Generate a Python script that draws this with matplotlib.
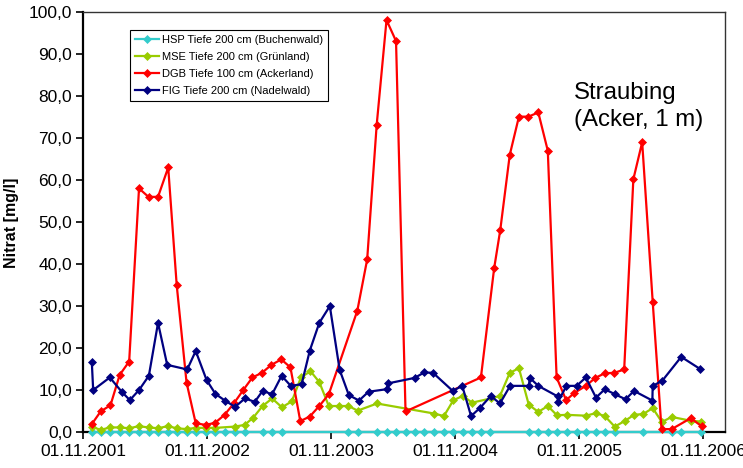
import matplotlib
matplotlib.use("Agg")
import matplotlib.pyplot as plt
import matplotlib.dates as mdates
from matplotlib.ticker import FuncFormatter
import pandas as pd

plt.rcParams['font.family'] = ['Liberation Sans', 'DejaVu Sans']

# HSP Tiefe 200 cm (Buchenwald) - alle Werte 0
hsp_dates = ['2001-11-27', '2001-12-23', '2002-01-19', '2002-02-17', '2002-03-17', '2002-04-14',
             '2002-05-13', '2002-06-10', '2002-07-08', '2002-08-05', '2002-09-02', '2002-09-29',
             '2002-10-28', '2002-11-26', '2002-12-24', '2003-01-22', '2003-02-20', '2003-04-14',
             '2003-05-12', '2003-06-10', '2003-12-23', '2004-01-19', '2004-03-16', '2004-04-13',
             '2004-05-11', '2004-06-08', '2004-07-06', '2004-08-02', '2004-09-01', '2004-09-29',
             '2004-10-27', '2004-11-24', '2004-12-21', '2005-01-16', '2005-02-13', '2005-06-06',
             '2005-07-04', '2005-08-01', '2005-08-28', '2005-09-26', '2005-10-25', '2005-11-21',
             '2005-12-21', '2006-01-16', '2006-02-14', '2006-05-09', '2006-08-01', '2006-08-29',
             '2006-10-26']
hsp_vals = [0.0, 0.0, 0.0, 0.0, 0.0, 0.0, 0.0, 0.0, 0.0, 0.0, 0.0, 0.0,
            0.0, 0.0, 0.0, 0.0, 0.0, 0.0, 0.0, 0.0, 0.0, 0.0, 0.0, 0.0,
            0.0, 0.0, 0.0, 0.0, 0.0, 0.0, 0.0, 0.0, 0.0, 0.0, 0.0, 0.0,
            0.0, 0.0, 0.0, 0.0, 0.0, 0.0, 0.0, 0.0, 0.0, 0.0, 0.0, 0.0,
            0.0]

# MSE Tiefe 200 cm (Grünland)
mse_dates = ['2001-11-27', '2001-12-23', '2002-01-19', '2002-02-17', '2002-03-17', '2002-04-14',
             '2002-05-13', '2002-06-10', '2002-07-08', '2002-08-05', '2002-09-02', '2002-09-29',
             '2002-10-28', '2002-11-26', '2003-01-22', '2003-02-20', '2003-03-17', '2003-04-14',
             '2003-05-12', '2003-06-10', '2003-07-09', '2003-08-05', '2003-09-02', '2003-09-28',
             '2003-10-26', '2003-11-25', '2003-12-23', '2004-01-19', '2004-03-16', '2004-09-01',
             '2004-09-29', '2004-10-27', '2004-11-24', '2004-12-21', '2005-02-14', '2005-03-13',
             '2005-04-11', '2005-05-08', '2005-06-06', '2005-07-04', '2005-08-01', '2005-08-28',
             '2005-09-26', '2005-11-21', '2005-12-21', '2006-01-16', '2006-02-14', '2006-03-15',
             '2006-04-12', '2006-05-09', '2006-06-06', '2006-07-03', '2006-08-01', '2006-09-26',
             '2006-10-26']
mse_vals = [1.4, 0.6, 1.2, 1.2, 1.0, 1.5, 1.2, 1.0, 1.5, 1.0, 0.8, 1.1,
            1.1, 1.1, 1.4, 1.8, 3.5, 6.3, 8.1, 6.0, 7.4, 13.1, 14.6, 12.0,
            6.3, 6.3, 6.3, 5.2, 6.9, 4.5, 3.9, 7.7, 8.7, 7.1, 8.1, 8.7,
            14.2, 15.3, 6.6, 4.9, 6.3, 4.1, 4.2, 4.0, 4.6, 3.9, 1.4, 2.7,
            4.2, 4.4, 5.8, 2.5, 3.7, 2.8, 2.6]

# DGB Tiefe 100 cm (Ackerland)
dgb_dates = ['2001-11-27', '2001-12-23', '2002-01-21', '2002-02-17', '2002-03-17', '2002-04-15',
             '2002-05-13', '2002-06-10', '2002-07-10', '2002-08-04', '2002-09-02', '2002-09-29',
             '2002-10-28', '2002-11-25', '2002-12-23', '2003-01-20', '2003-02-16', '2003-03-15',
             '2003-04-12', '2003-05-10', '2003-06-08', '2003-07-05', '2003-08-03', '2003-08-31',
             '2003-09-28', '2003-10-26', '2004-01-18', '2004-02-16', '2004-03-15', '2004-04-13',
             '2004-05-11', '2004-06-08', '2005-01-16', '2005-02-24', '2005-03-14', '2005-04-11',
             '2005-05-08', '2005-06-05', '2005-07-04', '2005-08-01', '2005-08-27', '2005-09-24',
             '2005-10-18', '2005-11-21', '2005-12-19', '2006-01-16', '2006-02-13', '2006-03-14',
             '2006-04-10', '2006-05-06', '2006-06-06', '2006-07-02', '2006-08-01', '2006-09-26',
             '2006-10-28']
dgb_vals = [2.0, 5.0, 6.5, 13.7, 16.9, 58.1, 56.1, 56.1, 63.1, 35.1, 11.9, 2.2,
            1.8, 2.3, 4.2, 7.0, 10.1, 13.1, 14.2, 16.1, 17.4, 15.5, 2.7, 3.8,
            6.3, 9.1, 29.0, 41.2, 73.2, 98.2, 93.2, 5.0, 13.1, 39.1, 48.2, 66.1,
            75.2, 75.2, 76.2, 67.1, 13.1, 7.7, 9.4, 11.1, 13.0, 14.1, 14.2, 15.0,
            60.3, 69.1, 31.1, 0.8, 0.8, 3.4, 1.5]

# FIG Tiefe 200 cm (Nadelwald)
fig_dates = ['2001-11-27', '2001-12-01', '2002-01-19', '2002-02-23', '2002-03-19', '2002-04-15',
             '2002-05-14', '2002-06-10', '2002-07-07', '2002-09-04', '2002-09-29', '2002-10-31',
             '2002-11-26', '2002-12-24', '2003-01-23', '2003-02-21', '2003-03-22', '2003-04-14',
             '2003-05-12', '2003-06-09', '2003-07-06', '2003-08-07', '2003-08-31', '2003-09-28',
             '2003-10-29', '2003-11-27', '2003-12-24', '2004-01-23', '2004-02-20', '2004-04-13',
             '2004-04-18', '2004-07-05', '2004-08-02', '2004-08-28', '2004-10-25', '2004-11-22',
             '2004-12-18', '2005-01-14', '2005-02-14', '2005-03-13', '2005-04-12', '2005-06-06',
             '2005-06-09', '2005-07-04', '2005-08-30', '2005-08-31', '2005-09-25', '2005-10-25',
             '2005-11-21', '2005-12-21', '2006-01-16', '2006-02-15', '2006-03-18', '2006-04-12',
             '2006-06-05', '2006-06-06', '2006-07-04', '2006-08-29', '2006-10-24']
fig_vals = [16.7, 10.1, 13.1, 9.7, 7.7, 10.1, 13.5, 26.1, 16.1, 15.0, 19.4, 12.5,
            9.2, 7.6, 6.1, 8.1, 7.3, 9.9, 9.1, 13.5, 11.1, 11.5, 19.5, 26.1,
            30.1, 14.9, 8.9, 7.6, 9.7, 10.3, 11.7, 13.0, 14.3, 14.2, 9.9, 11.1,
            3.9, 5.9, 8.7, 6.9, 11.1, 11.1, 13.0, 11.1, 8.6, 7.3, 11.1, 11.1,
            13.1, 8.3, 10.3, 9.1, 7.9, 9.9, 7.6, 11.1, 12.3, 18.0, 15.1]

series = [
    ('HSP Tiefe 200 cm (Buchenwald)', hsp_dates, hsp_vals, '#33CCCC'),
    ('MSE Tiefe 200 cm (Grünland)', mse_dates, mse_vals, '#99CC00'),
    ('DGB Tiefe 100 cm (Ackerland)', dgb_dates, dgb_vals, '#FF0000'),
    ('FIG Tiefe 200 cm (Nadelwald)', fig_dates, fig_vals, '#000080'),
]

x_ticks = ['2001-11-01', '2002-11-01', '2003-11-01', '2004-11-01', '2005-11-01', '2006-11-01']
y_ticks = [0, 10, 20, 30, 40, 50, 60, 70, 80, 90, 100]

fig = plt.figure(figsize=(7.43, 4.68), dpi=100)
ax = fig.add_axes([0.1117, 0.0759, 0.8641, 0.8974])

for label, d, v, c in series:
    ax.plot(pd.to_datetime(d), v, color=c, lw=1.6, marker='D', ms=4.5,
            mec=c, mew=0.5, label=label, clip_on=False, zorder=3)

ax.set_xlim(pd.Timestamp('2001-11-01'), pd.Timestamp('2007-01-05'))
ax.set_ylim(0, 100)
ax.set_xticks(pd.to_datetime(x_ticks))
ax.xaxis.set_major_formatter(mdates.DateFormatter('%d.%m.%Y'))
ax.set_yticks(y_ticks)
ax.yaxis.set_major_formatter(FuncFormatter(lambda v, p: f'{v:.1f}'.replace('.', ',')))
ax.tick_params(axis='both', labelsize=12.5, length=5, width=1.2, direction='out', pad=3)

for s in ['left', 'bottom']:
    ax.spines[s].set_linewidth(1.6)
    ax.spines[s].set_color('black')
for s in ['top', 'right']:
    ax.spines[s].set_linewidth(1.0)
    ax.spines[s].set_color('#333333')

ax.set_ylabel('Nitrat [mg/l]', fontsize=11.5, fontweight='bold', labelpad=7)

ax.text(0.764, 0.835, 'Straubing\n(Acker, 1 m)', transform=ax.transAxes,
        fontsize=17.3, va='top', ha='left', linespacing=1.3)

leg = ax.legend(loc='upper left', bbox_to_anchor=(0.073, 0.958), fontsize=8,
                frameon=True, fancybox=False, edgecolor='black', framealpha=1,
                handlelength=2.2, handletextpad=0.25, labelspacing=0.62,
                borderpad=0.45, borderaxespad=0)
leg.get_frame().set_linewidth(0.8)

fig.savefig('out.png', dpi=100)
